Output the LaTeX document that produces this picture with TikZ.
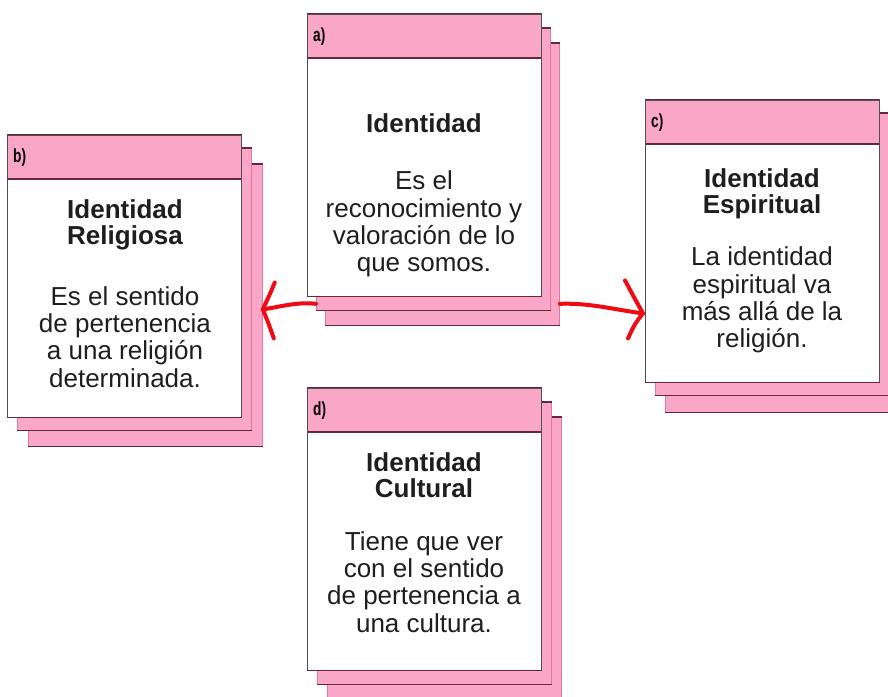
\documentclass[tikz,border=0pt]{standalone}
\usepackage{fontspec}
\setmainfont{Liberation Sans}
\definecolor{cardpink}{RGB}{249,166,199}
\definecolor{pinkedge}{RGB}{222,120,160}
\definecolor{maroon}{RGB}{100,40,58}
\definecolor{frontedge}{RGB}{80,80,80}
\definecolor{txt}{RGB}{30,30,30}
\definecolor{arrowred}{RGB}{240,10,20}
\tikzset{
  cardback/.style={draw=pinkedge, fill=cardpink, line width=0.8pt, minimum width=234pt, minimum height=282pt, inner sep=0pt, anchor=north west},
  cardfront/.style={draw=frontedge, fill=white, line width=0.8pt, minimum width=234pt, minimum height=282pt, inner sep=0pt, anchor=north west},
  darkline/.style={draw=maroon, line width=1.1pt},
  cardlabel/.style={anchor=west, inner sep=0pt, font=\fontsize{19}{19}\selectfont\bfseries, text=black},
  cardtitle/.style={align=center, inner sep=0pt, font=\fontsize{26}{26}\selectfont\bfseries, text=txt},
  cardbody/.style={align=center, inner sep=0pt, font=\fontsize{26}{27.3}\selectfont, text=txt},
  redline/.style={draw=arrowred, line width=4pt, line cap=round, line join=round},
}
\newcommand{\backcard}[3]{%
  \node[cardback] (#1) at (#2,#3) {};
  \draw[darkline] (#1.north west) -- (#1.north east);
  \draw[darkline] (#1.south west) -- (#1.south east);
}
\newcommand{\frontcard}[4]{%
  \node[cardfront] (#1) at (#2,#3) {};
  \fill[cardpink] (#1.north west) rectangle ([yshift=-44pt]#1.north east);
  \draw[darkline] (#1.north west) -- (#1.north east);
  \draw[darkline] ([yshift=-44pt]#1.north west) -- ([yshift=-44pt]#1.north east);
  \draw[frontedge, line width=0.8pt] (#1.north west) rectangle (#1.south east);
  \draw[maroon, line width=1.2pt] (#1.south west) -- (#1.south east);
  \node[cardlabel] (#1lab) at ([xshift=6pt,yshift=-23pt]#1.north west) {\scalebox{0.72}[1]{#4}};
}
\begin{document}
\begin{tikzpicture}[x=1pt,y=-1pt]
\useasboundingbox (0,0) rectangle (888,696);
\fill[white] (0,0) rectangle (888,696);

% card a
\backcard{a3}{325}{43}
\backcard{a2}{316}{28}
\frontcard{a}{307}{14}{a)}
% card b
\backcard{b3}{28}{164}
\backcard{b2}{17}{148}
\frontcard{b}{7}{135}{b)}
% card c
\backcard{c3}{665}{130}
\backcard{c2}{655}{113}
\frontcard{c}{645}{100}{c)}
% card d
\backcard{d3}{327}{417}
\backcard{d2}{317}{402}
\frontcard{d}{307}{388}{d)}

% texts
\node[cardtitle] (at) at (424,123) {Identidad};
\node[cardbody] (ab) at (424,224) {Es el\\reconocimiento y\\valoración de lo\\que somos.};

\node[cardtitle] (bt) at (125,225) {Identidad\\Religiosa};
\node[cardbody] (bb) at (125,337) {Es el sentido\\de pertenencia\\a una religión\\determinada.};

\node[cardtitle] (ct) at (762,194) {Identidad\\Espiritual};
\node[cardbody] (cb) at (762,300) {La identidad\\espiritual va\\más allá de la\\religión.};

\node[cardtitle] (dt) at (424,475) {Identidad\\Cultural};
\node[cardbody] (db) at (424,582) {Tiene que ver\\con el sentido\\de pertenencia a\\una cultura.};

% arrows
\coordinate (lstart) at ([yshift=7pt]a2.south west);
\coordinate (ltip) at ([yshift=-4pt]b3.east);
\draw[redline] (lstart) .. controls +(-20,-2) and +(20,-3) .. (ltip);
\draw[redline] ([xshift=12pt,yshift=27pt]ltip) .. controls +(-5,12) .. (ltip) .. controls +(5,12) .. ([xshift=11pt,yshift=-29pt]ltip);

\coordinate (rstart) at ([yshift=22pt]a3.south east);
\coordinate (rtip) at ([xshift=-2pt,yshift=-72pt]c.west);
\draw[redline] (rstart) .. controls +(30,-1) and +(-30,-4) .. (rtip);
\draw[redline] ([xshift=-18pt,yshift=33pt]rtip) .. controls +(8,15) .. (rtip) .. controls +(-8,10) .. ([xshift=-15pt,yshift=-25pt]rtip);
\end{tikzpicture}
\end{document}
